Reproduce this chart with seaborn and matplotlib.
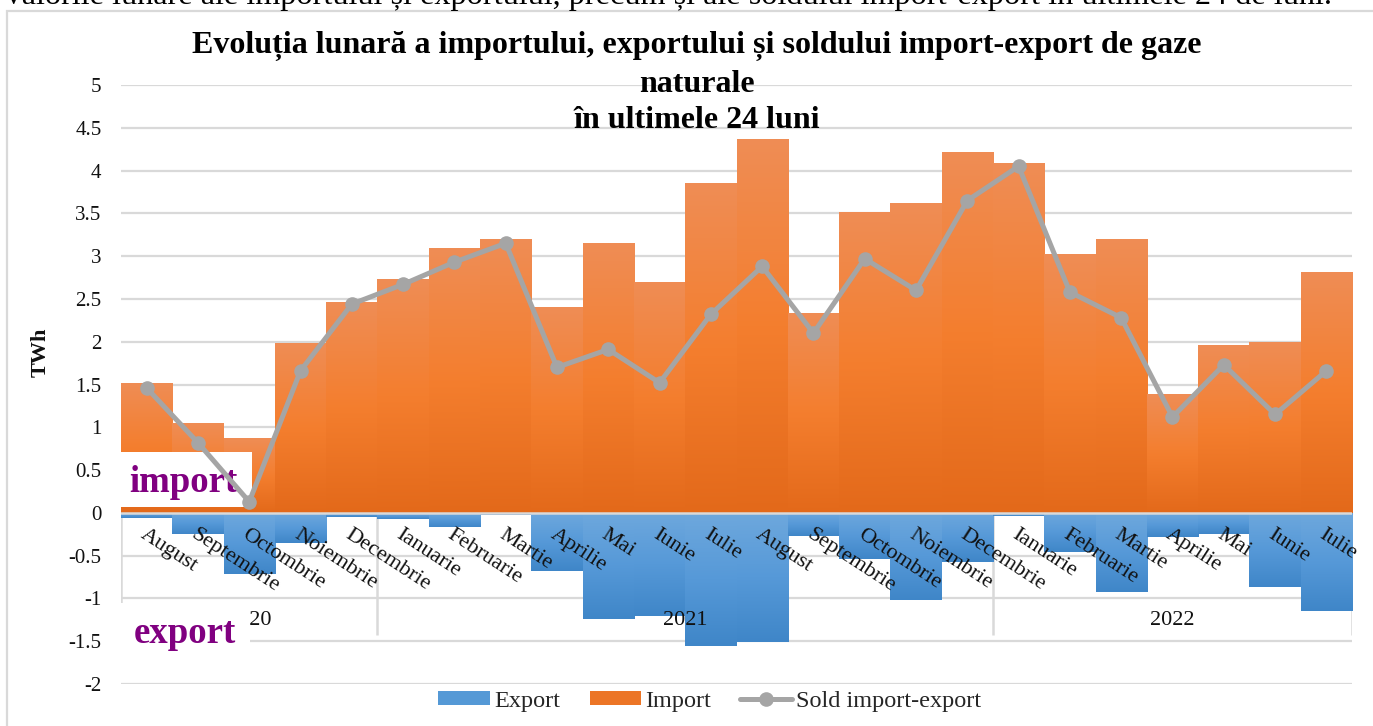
import numpy as np
import pandas as pd
import matplotlib
matplotlib.use("Agg")
import matplotlib.pyplot as plt
import matplotlib.transforms as mtransforms
from matplotlib.colors import LinearSegmentedColormap
import seaborn as sns
from matplotlib.patches import Patch, Rectangle
from matplotlib.lines import Line2D

# ---------------- data ----------------
months = ["August", "Septembrie", "Octombrie", "Noiembrie", "Decembrie",
          "Ianuarie", "Februarie", "Martie", "Aprilie", "Mai", "Iunie", "Iulie",
          "August", "Septembrie", "Octombrie", "Noiembrie", "Decembrie",
          "Ianuarie", "Februarie", "Martie", "Aprilie", "Mai", "Iunie", "Iulie"]
years = ["2020", "2021", "2022"]
year_counts = [5, 12, 7]

import_twh = [1.52, 1.05, 0.87, 1.99, 2.46, 2.73, 3.09, 3.20, 2.40, 3.15, 2.70, 3.85,
              4.37, 2.34, 3.52, 3.62, 4.22, 4.09, 3.02, 3.20, 1.39, 1.96, 2.00, 2.81]
export_twh = [-0.06, -0.25, -0.71, -0.35, -0.05, -0.07, -0.17, -0.03, -0.68, -1.24, -1.21, -1.56,
              -1.51, -0.27, -0.54, -1.02, -0.58, -0.04, -0.46, -0.92, -0.28, -0.25, -0.87, -1.15]
sold_twh = [1.46, 0.82, 0.13, 1.66, 2.44, 2.67, 2.93, 3.15, 1.70, 1.91, 1.52, 2.32,
            2.88, 2.10, 2.97, 2.60, 3.65, 4.05, 2.58, 2.28, 1.12, 1.73, 1.15, 1.66]

title_lines = ["Evoluția lunară a importului, exportului și soldului import-export de gaze",
               "naturale", "în ultimele 24 luni"]
top_text = ("Valorile lunare ale importului și exportului, precum și ale soldului "
            "import-export în ultimele 24 de luni.")

df = pd.DataFrame({"idx": np.arange(len(months)), "luna": months,
                   "Import": import_twh, "Export": export_twh, "Sold": sold_twh})

# ---------------- style ----------------
sns.set_theme(style="white")
plt.rcParams["font.family"] = ["Liberation Serif", "DejaVu Serif"]

C_IMP = "#EC7526"
C_EXP = "#5599D6"
C_SOLD = "#A5A5A5"
C_GRID = "#D9D9D9"
CM_IMP = LinearSegmentedColormap.from_list("imp", ["#E3691A", "#F47E2E", "#EF8D55"])
CM_EXP = LinearSegmentedColormap.from_list("exp", ["#3F86C8", "#5699D8", "#6EA8DD"])

W, H = 1373, 726
fig = plt.figure(figsize=(W / 100, H / 100), dpi=100)
L, R, T, B = 121, 1352, 85, 684
ax = fig.add_axes([L / W, 1 - B / H, (R - L) / W, (B - T) / H])

sns.barplot(data=df, x="idx", y="Import", native_scale=True, width=1.0,
            color=C_IMP, saturation=1, linewidth=0, ax=ax, zorder=2, errorbar=None)
n_imp = len(ax.patches)
sns.barplot(data=df, x="idx", y="Export", native_scale=True, width=1.0,
            color=C_EXP, saturation=1, linewidth=0, ax=ax, zorder=2, errorbar=None)

# vertical gradient fill for each bar (Excel-like)
grad = np.linspace(0, 1, 256).reshape(-1, 1)
for k, p in enumerate(list(ax.patches)):
    x0, y0 = p.get_x(), p.get_y()
    w, h = p.get_width(), p.get_height()
    ymin, ymax = min(y0, y0 + h), max(y0, y0 + h)
    cmap = CM_IMP if k < n_imp else CM_EXP
    im = ax.imshow(grad, cmap=cmap, extent=[x0, x0 + w, ymin, ymax], origin="lower",
                   aspect="auto", zorder=2, interpolation="bilinear")
    im.set_clip_path(p)
    p.set_zorder(1.9)

sns.lineplot(data=df, x="idx", y="Sold", color=C_SOLD, linewidth=3.6,
             marker="o", markersize=10.5, markeredgewidth=0, ax=ax, zorder=5)

ax.set_xlim(-0.5, len(months) - 0.5)
ax.set_ylim(-2, 5)
yt = np.arange(-2, 5.01, 0.5)
ax.set_yticks(yt)
ax.set_yticklabels([f"{v:g}" for v in yt], fontsize=15, color="#111111")
ax.yaxis.grid(True, color=C_GRID, linewidth=1.6, zorder=0)
ax.set_axisbelow(True)
for s in ["top", "right", "left", "bottom"]:
    ax.spines[s].set_visible(False)
ax.axhline(0, color=C_GRID, linewidth=1.8, zorder=3)
ax.tick_params(axis="y", length=0, pad=14)
ax.set_xticks([])
ax.set_xlabel("")
ax.set_ylabel("TWh", fontsize=16, fontweight="bold", color="#111111")
ax.yaxis.set_label_coords((51 - L) / (R - L), (B - 352) / (B - T))

# month labels drawn above the bars
lab_tr = mtransforms.offset_copy(ax.transData, fig=fig, x=0, y=-9, units="points")
for i, m in zip(df["idx"], months):
    ax.text(i, 0, m, transform=lab_tr, rotation=-33, ha="left", va="top",
            rotation_mode="anchor", fontsize=16, color="#111111", zorder=6)

# multi-level category axis: year separators and labels
bounds = np.concatenate([[0], np.cumsum(year_counts)]) - 0.5
ax.vlines(bounds, -1.43, 0, color=C_GRID, linewidth=1.8, zorder=1)
for yr, a, b in zip(years, bounds[:-1], bounds[1:]):
    ax.text((a + b) / 2, -1.26, yr, ha="center", va="center", fontsize=16,
            color="#111111", zorder=3)

# "import" / "export" labels with white boxes
ax.add_patch(Rectangle((0.0, 0.2955), 0.1064, 0.092, transform=ax.transAxes,
                       facecolor="white", edgecolor="none", zorder=4, clip_on=False))
ax.text(0.051, 0.3205, "import", transform=ax.transAxes, ha="center", va="baseline",
        fontsize=26.5, fontweight="bold", color="#800080", zorder=4.5)
ax.add_patch(Rectangle((-0.002, 0.043), 0.107, 0.092, transform=ax.transAxes,
                       facecolor="white", edgecolor="none", zorder=4, clip_on=False))
ax.text(0.052, 0.0684, "export", transform=ax.transAxes, ha="center", va="baseline",
        fontsize=26.5, fontweight="bold", color="#800080", zorder=4.5)

# title (three lines)
for line, yc in zip(title_lines, [46, 84, 121]):
    fig.text(697 / W, 1 - yc / H, line, ha="center", va="center", fontsize=23,
             fontweight="bold", color="black")

# clipped document text above the chart and chart border
fig.text(2 / W, 1 - 4 / H, top_text, ha="left", va="baseline", fontsize=23.2, color="black")
fig.add_artist(Rectangle((7 / W, -0.1), 1.2, 1.1 - 11 / H, transform=fig.transFigure,
                         fill=False, edgecolor=C_GRID, linewidth=1.6))

# legend
handles = [Patch(facecolor=C_EXP, edgecolor="none", label="Export"),
           Patch(facecolor=C_IMP, edgecolor="none", label="Import"),
           Line2D([], [], color=C_SOLD, linewidth=3.6, marker="o", markersize=10.5,
                  markeredgewidth=0, label="Sold import-export")]
if ax.get_legend():
    ax.get_legend().remove()
fig.legend(handles=handles, loc="center", bbox_to_anchor=(710 / W, 1 - 701 / H), ncol=3,
           frameon=False, fontsize=17.5, handlelength=2.1, handleheight=0.55,
           handletextpad=0.2, columnspacing=1.2)

fig.savefig("out.png", dpi=100)
